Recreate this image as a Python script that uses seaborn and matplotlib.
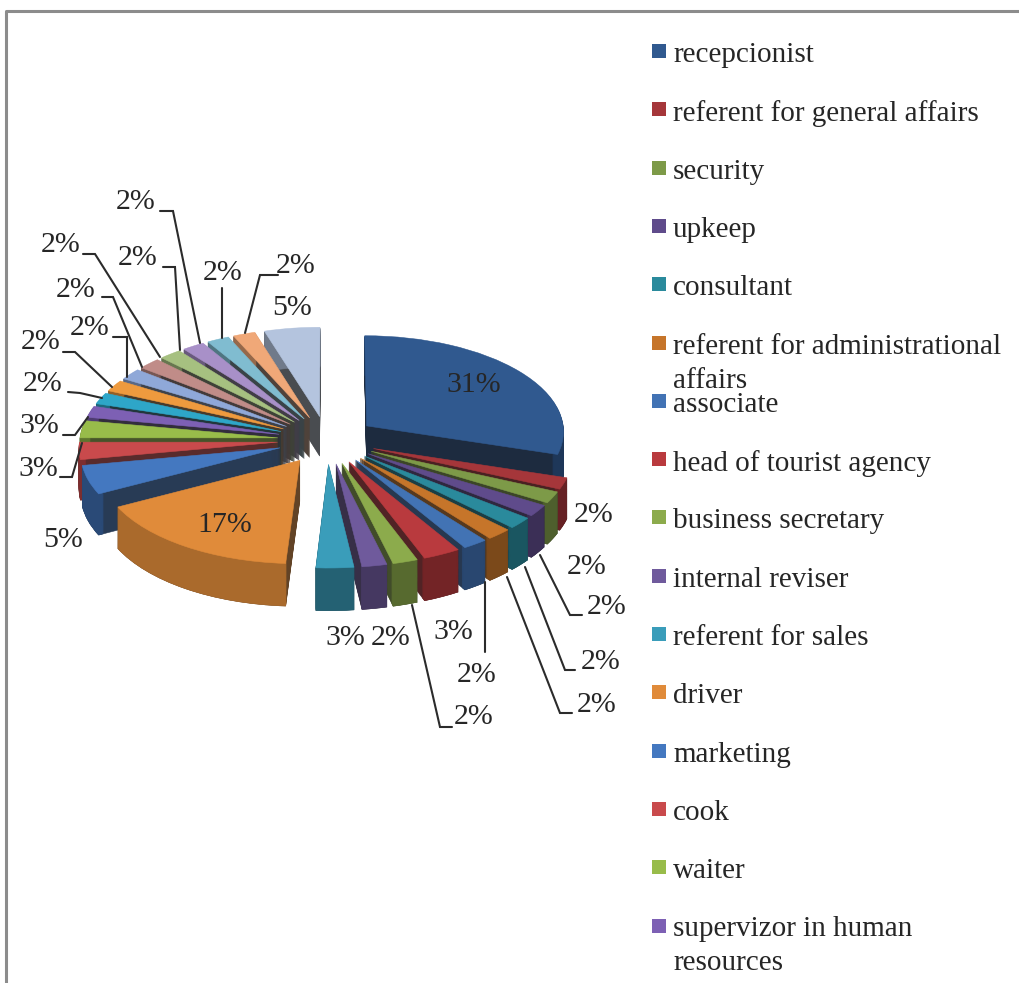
import matplotlib
matplotlib.use("Agg")
import matplotlib.pyplot as plt
import matplotlib.colors as mcolors
from matplotlib.transforms import Transform
import numpy as np
import seaborn as sns

# Job positions and their shares (%), clockwise from twelve o'clock
slice_values = [31, 2, 2, 2, 2, 2, 2, 3, 2, 2, 3, 17, 5, 3, 3,
                2, 2, 2, 2, 2, 2, 2, 2, 2, 5]

legend_names = [
    "recepcionist", "referent for general affairs", "security", "upkeep",
    "consultant", "referent for administrational\naffairs", "associate",
    "head of tourist agency", "business secretary", "internal reviser",
    "referent for sales", "driver", "marketing", "cook", "waiter",
    "supervizor in human\nresources",
]

top_colors = [
    "#30598f", "#a5363a", "#7d9a48", "#5f4b8b", "#2a8a9c", "#c6752a",
    "#4273b4", "#b93a3e", "#8cab4c", "#6f5a9c", "#3a9dba", "#e08b3a",
    "#4478c0", "#c94a4c", "#98bc4a", "#7d60b4", "#2ea6c8", "#ee9a3e",
    "#8fa8d8", "#c08c88", "#a6c080", "#a890c8", "#80bcd0", "#f0a878",
    "#b4c4de",
]

# Printed percentages: text, centre x, centre y, optional leader polyline
pct_labels = [
    ("31%", 474, 385, None),
    ("2%", 594, 515, None),
    ("2%", 587, 567, None),
    ("2%", 607, 607, [(582, 615), (570, 615), (540, 555)]),
    ("2%", 601, 662, [(575, 670), (565, 670), (525, 567)]),
    ("2%", 597, 705, [(572, 713), (560, 713), (507, 577)]),
    ("2%", 477, 675, [(485, 652), (485, 582)]),
    ("3%", 453, 632, None),
    ("2%", 474, 717, [(452, 727), (440, 727), (412, 605)]),
    ("2%", 391, 638, None),
    ("3%", 345, 638, None),
    ("17%", 225, 525, None),
    ("5%", 63, 540, None),
    ("3%", 38, 469, [(60, 477), (72, 477), (82, 443)]),
    ("3%", 39, 426, [(63, 435), (75, 435), (88, 417)]),
    ("2%", 43, 384, [(68, 392), (80, 393), (102, 398)]),
    ("2%", 41, 342, [(63, 352), (75, 352), (112, 387)]),
    ("2%", 90, 328, [(113, 337), (127, 337), (127, 377)]),
    ("2%", 76, 290, [(102, 297), (113, 297), (142, 367)]),
    ("2%", 61, 245, [(83, 254), (95, 254), (160, 357)]),
    ("2%", 138, 258, [(163, 267), (175, 267), (180, 350)]),
    ("2%", 136, 202, [(160, 211), (173, 211), (200, 343)]),
    ("2%", 223, 273, [(222, 288), (222, 338)]),
    ("2%", 296, 266, [(278, 275), (260, 275), (245, 333)]),
    ("5%", 292, 308, None),
]

W, H = 1020, 983
CX, CY = 327, 440      # pie centre, pixels
RADIUS_X = 198
RADIUS_Y = 96
PERSPECTIVE = 0.05
DEPTH_PX = 40
EXPLODE = 0.25
SERIF = "Liberation Serif"
INK = "#262626"

sns.set_theme(style="white")
plt.rcParams["font.family"] = [SERIF, "DejaVu Sans"]

fig = plt.figure(figsize=(W / 100, H / 100), dpi=100, facecolor="white")
ax = fig.add_axes([0, 0, 1, 1])


class TiltedPie(Transform):
    """Project the flat pie onto the page, seen from above and in front."""
    input_dims = output_dims = 2

    def __init__(self, drop=0.0):
        super().__init__()
        self.drop = drop

    def transform_non_affine(self, xy):
        xy = np.asarray(xy, dtype=float)
        f = 1 / (1 + PERSPECTIVE * xy[:, 1])
        return np.column_stack([CX + RADIUS_X * xy[:, 0] * f,
                                CY + (self.drop - RADIUS_Y * xy[:, 1]) * f])


def shade(color, factor):
    r, g, b = mcolors.to_rgb(color)
    return (r * factor, g * factor, b * factor)


values = np.array(slice_values, dtype=float)
mids = 90 - 360 * (np.cumsum(values) - values / 2) / values.sum()
order = np.argsort(np.argsort(-np.sin(np.radians(mids))))  # back slices first
explode = [EXPLODE] * len(values)

radial_colors = [shade(sns.desaturate(c, 0.75), 0.48) for c in top_colors[:15]]
radial_colors += [shade(sns.desaturate(c, 0.45), 0.38) for c in top_colors[15:]]
outer_colors = [shade(c, 0.62) for c in top_colors]
outer_colors[11] = shade(top_colors[11], 0.76)


def draw_layer(colors, drop, z_offset, **wedge_kw):
    wedges, _ = ax.pie(values, colors=colors, explode=explode, startangle=90,
                       counterclock=False, radius=1,
                       wedgeprops={"linewidth": 0.4, **wedge_kw})
    projection = TiltedPie(drop) + ax.transData
    for wedge, rank, color in zip(wedges, order, colors):
        wedge.set_transform(projection)
        wedge.set_edgecolor(color)
        wedge.set_zorder(2 + rank + z_offset)


# Each slice is stacked from the bottom up: cut walls, then the rim, then its top face
for step in range(DEPTH_PX, 0, -1):
    frac = 1 - step / DEPTH_PX
    draw_layer(radial_colors, step, 0.4 * frac)
    draw_layer(outer_colors, step, 0.4 + 0.4 * frac, width=0.025)
draw_layer(top_colors, 0, 0.9)

ax.set_aspect("auto")
ax.set_xlim(0, W)
ax.set_ylim(H, 0)
ax.axis("off")

# Annotation layer in pixel coordinates
over = fig.add_axes([0, 0, 1, 1], facecolor="none", zorder=5)
over.set_xlim(0, W)
over.set_ylim(H, 0)
over.axis("off")

# Chart frame
over.plot([6.5, 6.5, W], [H, 10.5, 10.5], color="#8c8c8c", lw=2.2, solid_capstyle="butt")

for text, x, y, leader in pct_labels:
    over.text(x, y, text, ha="center", va="center", fontsize=21.5, color=INK)
    if leader:
        xs, ys = zip(*leader)
        over.plot(xs, ys, color="#2b2b2b", lw=1.5, solid_joinstyle="miter")

LEGEND_TOP, LEGEND_STEP = 52, 58.3
for i, name in enumerate(legend_names):
    y = LEGEND_TOP + i * LEGEND_STEP
    over.scatter([659], [y - 1], marker="s", s=92, color=top_colors[i], linewidths=0)
    first, *rest = name.split("\n")
    over.text(673, y + 3, first, ha="left", va="center", fontsize=21, color=INK)
    for line in rest:
        over.text(673, y + 37, line, ha="left", va="center", fontsize=21, color=INK)

fig.savefig("out.png", dpi=100, facecolor="white")
